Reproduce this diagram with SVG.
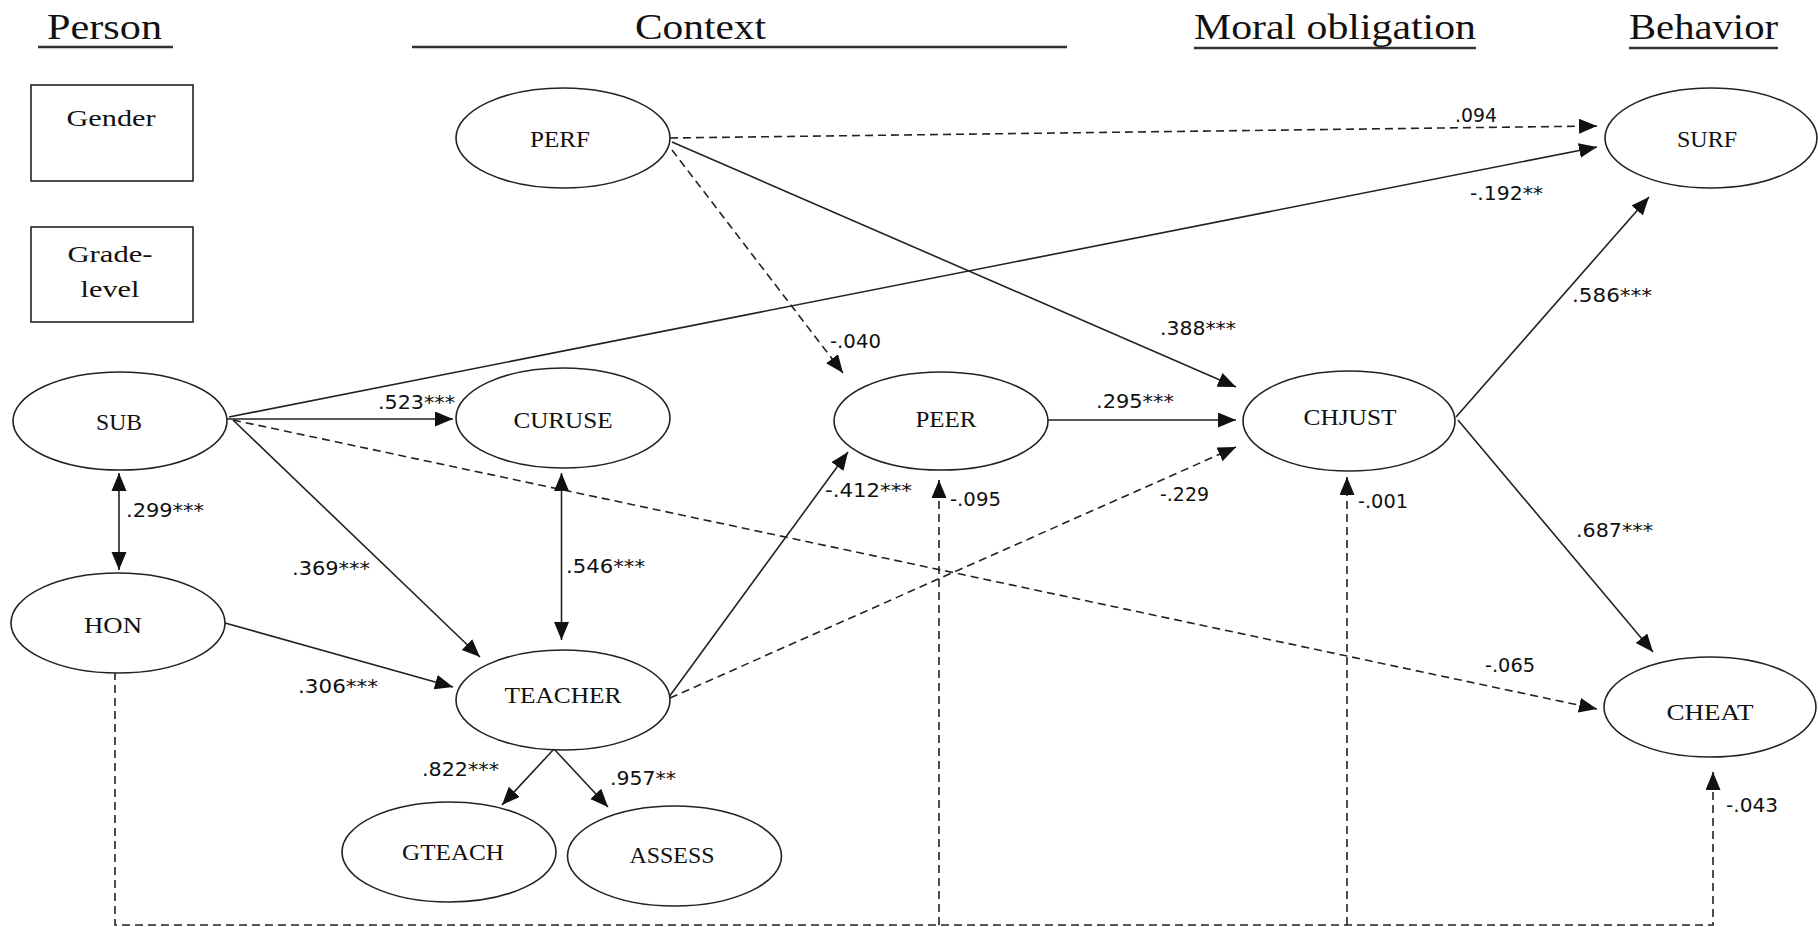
<svg xmlns="http://www.w3.org/2000/svg" width="1818" height="927" viewBox="0 0 1818 927">
<style>
.head{font-family:"Liberation Serif",serif;font-size:36px;fill:#111}
.hl{stroke:#333;stroke-width:2.5}
.node ellipse,.node rect{fill:#fff;stroke:#222;stroke-width:1.6}
.lbl{font-family:"Liberation Serif",serif;font-size:24px;fill:#111;text-anchor:middle}
.num{font-family:"DejaVu Sans",sans-serif;font-size:19px;fill:#111}
.ln{fill:none;stroke:#222;stroke-width:1.6}
.d{stroke-dasharray:8,5}
</style>
<defs>
<marker id="ah" markerUnits="userSpaceOnUse" markerWidth="19" markerHeight="16" refX="18" refY="7.5" orient="auto">
<path d="M0,0 L18,7.5 L0,15 z" fill="#111"/>
</marker>
<marker id="as" markerUnits="userSpaceOnUse" markerWidth="19" markerHeight="16" refX="0" refY="7.5" orient="auto">
<path d="M18,0 L0,7.5 L18,15 z" fill="#111"/>
</marker>
</defs>
<rect width="1818" height="927" fill="#fff"/>
<g id="headings">
<text class="head" x="47" y="39" textLength="115" lengthAdjust="spacingAndGlyphs">Person</text>
<line class="hl" x1="38" y1="47" x2="173" y2="47"/>
<text class="head" x="635" y="39" textLength="131" lengthAdjust="spacingAndGlyphs">Context</text>
<line class="hl" x1="412" y1="47" x2="1067" y2="47"/>
<text class="head" x="1194" y="39" textLength="282" lengthAdjust="spacingAndGlyphs">Moral obligation</text>
<line class="hl" x1="1194" y1="48" x2="1476" y2="48"/>
<text class="head" x="1629" y="39" textLength="149" lengthAdjust="spacingAndGlyphs">Behavior</text>
<line class="hl" x1="1629" y1="48" x2="1778" y2="48"/>
</g>
<g id="connectors">
<line class="ln d" x1="670" y1="138" x2="1597" y2="126" marker-end="url(#ah)"/>
<line class="ln" x1="229" y1="417" x2="1597" y2="147" marker-end="url(#ah)"/>
<line class="ln d" x1="672" y1="150" x2="843" y2="373" marker-end="url(#ah)"/>
<line class="ln" x1="672" y1="142" x2="1236" y2="387" marker-end="url(#ah)"/>
<line class="ln" x1="227" y1="419" x2="453" y2="419" marker-end="url(#ah)"/>
<line class="ln d" x1="233" y1="420" x2="1597" y2="709" marker-end="url(#ah)"/>
<line class="ln" x1="233" y1="420" x2="480" y2="657" marker-end="url(#ah)"/>
<line class="ln" x1="119" y1="473" x2="119" y2="570" marker-start="url(#as)" marker-end="url(#ah)"/>
<line class="ln" x1="561.5" y1="473" x2="561.5" y2="640" marker-start="url(#as)" marker-end="url(#ah)"/>
<line class="ln" x1="225" y1="623" x2="453" y2="687" marker-end="url(#ah)"/>
<line class="ln" x1="1048" y1="420" x2="1236" y2="420" marker-end="url(#ah)"/>
<line class="ln" x1="669" y1="697" x2="848" y2="452" marker-end="url(#ah)"/>
<line class="ln d" x1="670" y1="698" x2="1236" y2="447" marker-end="url(#ah)"/>
<line class="ln" x1="1456" y1="417" x2="1649" y2="197" marker-end="url(#ah)"/>
<line class="ln" x1="1458" y1="420" x2="1653" y2="652" marker-end="url(#ah)"/>
<line class="ln" x1="554" y1="749" x2="502" y2="805" marker-end="url(#ah)"/>
<line class="ln" x1="554" y1="749" x2="608" y2="807" marker-end="url(#ah)"/>
<path class="ln d" d="M115,672 V925 H1713 V772" marker-end="url(#ah)"/>
<path class="ln d" d="M939,925 V480" marker-end="url(#ah)"/>
<path class="ln d" d="M1347,925 V477" marker-end="url(#ah)"/>
</g>
<g id="edge-labels">
<text class="num" x="1455" y="122" textLength="42" lengthAdjust="spacingAndGlyphs">.094</text>
<text class="num" x="1470" y="200" textLength="73" lengthAdjust="spacingAndGlyphs">-.192**</text>
<text class="num" x="1572" y="302" textLength="80" lengthAdjust="spacingAndGlyphs">.586***</text>
<text class="num" x="1160" y="335" textLength="76" lengthAdjust="spacingAndGlyphs">.388***</text>
<text class="num" x="830" y="348" textLength="51" lengthAdjust="spacingAndGlyphs">-.040</text>
<text class="num" x="378" y="409" textLength="77" lengthAdjust="spacingAndGlyphs">.523***</text>
<text class="num" x="1096" y="408" textLength="78" lengthAdjust="spacingAndGlyphs">.295***</text>
<text class="num" x="126" y="517" textLength="78" lengthAdjust="spacingAndGlyphs">.299***</text>
<text class="num" x="825" y="497" textLength="87" lengthAdjust="spacingAndGlyphs">-.412***</text>
<text class="num" x="950" y="506" textLength="51" lengthAdjust="spacingAndGlyphs">-.095</text>
<text class="num" x="1160" y="501" textLength="49" lengthAdjust="spacingAndGlyphs">-.229</text>
<text class="num" x="1358" y="508" textLength="50" lengthAdjust="spacingAndGlyphs">-.001</text>
<text class="num" x="292" y="575" textLength="78" lengthAdjust="spacingAndGlyphs">.369***</text>
<text class="num" x="566" y="573" textLength="79" lengthAdjust="spacingAndGlyphs">.546***</text>
<text class="num" x="1576" y="537" textLength="77" lengthAdjust="spacingAndGlyphs">.687***</text>
<text class="num" x="1485" y="672" textLength="50" lengthAdjust="spacingAndGlyphs">-.065</text>
<text class="num" x="298" y="693" textLength="80" lengthAdjust="spacingAndGlyphs">.306***</text>
<text class="num" x="422" y="776" textLength="77" lengthAdjust="spacingAndGlyphs">.822***</text>
<text class="num" x="610" y="785" textLength="66" lengthAdjust="spacingAndGlyphs">.957**</text>
<text class="num" x="1726" y="812" textLength="52" lengthAdjust="spacingAndGlyphs">-.043</text>
</g>
<g id="Gender" class="node"><rect x="31" y="85" width="162" height="96"/><text class="lbl" x="111" y="126" textLength="89" lengthAdjust="spacingAndGlyphs">Gender</text></g>
<g id="GradeLevel" class="node"><rect x="31" y="227" width="162" height="95"/><text class="lbl" x="110" y="262" textLength="85" lengthAdjust="spacingAndGlyphs">Grade-</text><text class="lbl" x="110" y="297" textLength="59" lengthAdjust="spacingAndGlyphs">level</text></g>
<g id="PERF" class="node"><ellipse cx="563" cy="138" rx="107" ry="50"/><text class="lbl" x="560" y="147" textLength="60" lengthAdjust="spacingAndGlyphs">PERF</text></g>
<g id="SURF" class="node"><ellipse cx="1711" cy="138" rx="106" ry="50"/><text class="lbl" x="1707" y="147" textLength="60" lengthAdjust="spacingAndGlyphs">SURF</text></g>
<g id="SUB" class="node"><ellipse cx="120" cy="421" rx="107" ry="49"/><text class="lbl" x="119" y="430" textLength="46" lengthAdjust="spacingAndGlyphs">SUB</text></g>
<g id="CURUSE" class="node"><ellipse cx="563" cy="418" rx="107" ry="50"/><text class="lbl" x="563" y="428" textLength="99" lengthAdjust="spacingAndGlyphs">CURUSE</text></g>
<g id="PEER" class="node"><ellipse cx="941" cy="421" rx="107" ry="49"/><text class="lbl" x="946" y="427" textLength="61" lengthAdjust="spacingAndGlyphs">PEER</text></g>
<g id="CHJUST" class="node"><ellipse cx="1349" cy="421" rx="106" ry="50"/><text class="lbl" x="1350" y="425" textLength="93" lengthAdjust="spacingAndGlyphs">CHJUST</text></g>
<g id="HON" class="node"><ellipse cx="118" cy="623" rx="107" ry="50"/><text class="lbl" x="113" y="633" textLength="58" lengthAdjust="spacingAndGlyphs">HON</text></g>
<g id="TEACHER" class="node"><ellipse cx="563" cy="700" rx="107" ry="50"/><text class="lbl" x="563" y="703" textLength="117" lengthAdjust="spacingAndGlyphs">TEACHER</text></g>
<g id="GTEACH" class="node"><ellipse cx="449" cy="852" rx="107" ry="50"/><text class="lbl" x="453" y="860" textLength="102" lengthAdjust="spacingAndGlyphs">GTEACH</text></g>
<g id="ASSESS" class="node"><ellipse cx="674.5" cy="856" rx="107" ry="50"/><text class="lbl" x="672" y="863" textLength="85" lengthAdjust="spacingAndGlyphs">ASSESS</text></g>
<g id="CHEAT" class="node"><ellipse cx="1710" cy="707" rx="106" ry="50"/><text class="lbl" x="1710" y="720" textLength="87" lengthAdjust="spacingAndGlyphs">CHEAT</text></g>
</svg>
